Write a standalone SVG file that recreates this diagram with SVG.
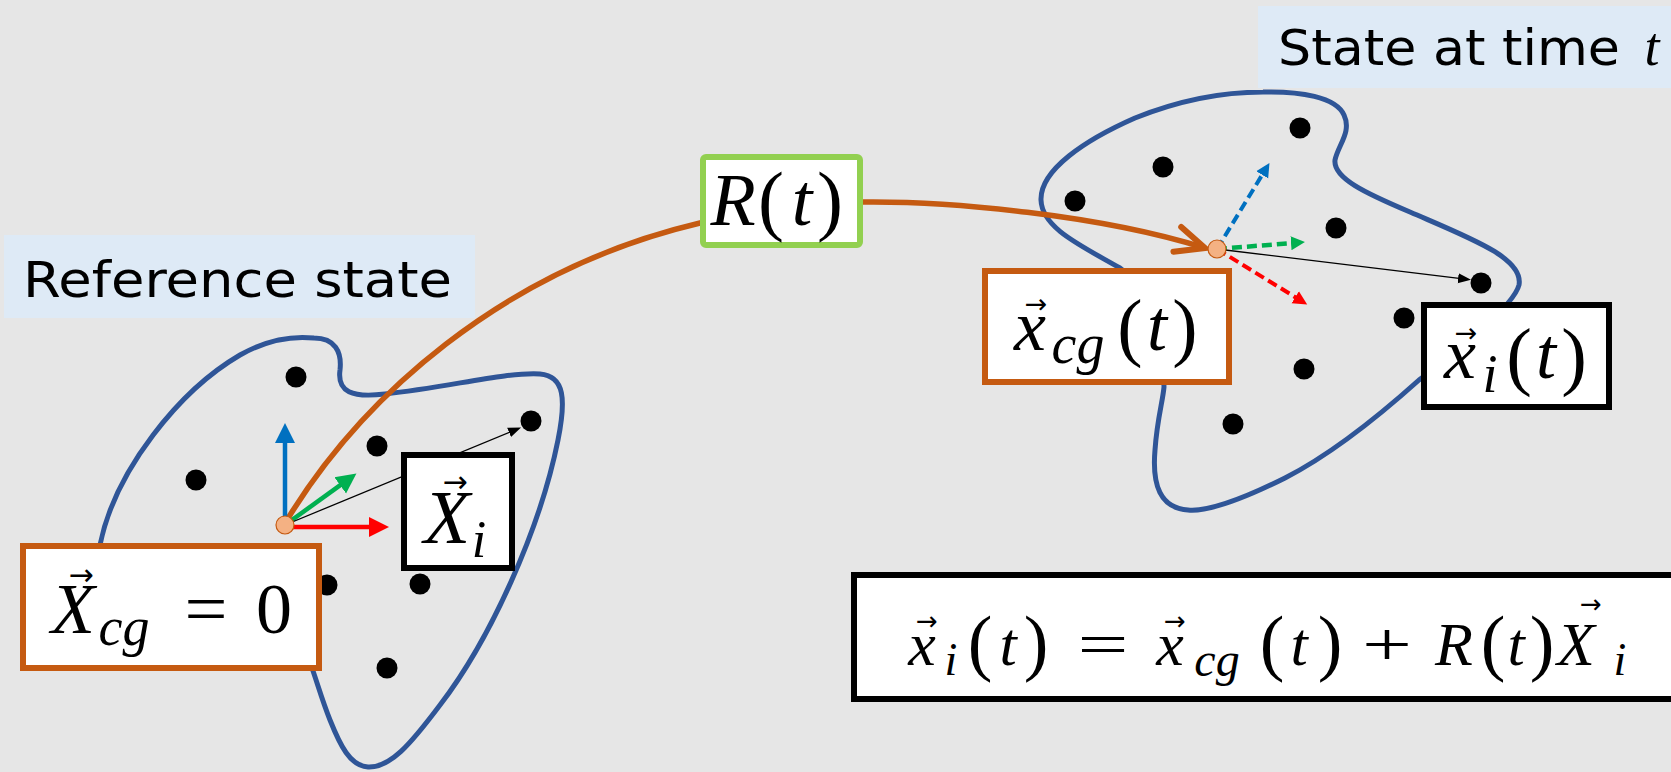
<svg xmlns="http://www.w3.org/2000/svg" width="1671" height="772" viewBox="0 0 1671 772">
<style>
.bg{fill:#E6E6E6}
.lab{fill:#DEEAF6}
.labt{font-family:"DejaVu Sans","Noto Sans",sans-serif;font-size:50px;fill:#000}
.blob{fill:none;stroke:#2F5597;stroke-width:5}
.dot{fill:#000}
.ob{fill:#fff;stroke:#C55A11;stroke-width:6}
.kb{fill:#fff;stroke:#000;stroke-width:6}
.gb{fill:#fff;stroke:#92D050;stroke-width:6}
.mi{font-family:"Liberation Serif","Times New Roman",serif;font-style:italic;fill:#000;text-anchor:middle}
.mr{font-family:"Liberation Serif","Times New Roman",serif;fill:#000;text-anchor:middle}
.vec{font-family:"DejaVu Sans",sans-serif;fill:#000;text-anchor:middle}
.cg{fill:#F4B183;stroke:#C55A11;stroke-width:1.2}
.curve{fill:none;stroke:#C55A11;stroke-width:5.5}
.thin{stroke:#000;stroke-width:1.3;fill:none}
.dash{stroke-dasharray:10 5;fill:none}
</style>
<defs>
<marker id="chev" markerUnits="userSpaceOnUse" viewBox="-36 -20 44 40" markerWidth="44" markerHeight="40" refX="0" refY="0" orient="auto"><path d="M-29,-13 L0,0 L-29,13" fill="none" stroke="#C55A11" stroke-width="6" stroke-linecap="round"/></marker>
<marker id="hbL" markerUnits="userSpaceOnUse" viewBox="0 -11 22 22" markerWidth="22" markerHeight="22" refX="1" refY="0" orient="auto"><path d="M0,-10 L20,0 L0,10 z" fill="#0070C0"/></marker>
<marker id="hrL" markerUnits="userSpaceOnUse" viewBox="0 -11 22 22" markerWidth="22" markerHeight="22" refX="1" refY="0" orient="auto"><path d="M0,-10 L20,0 L0,10 z" fill="#FF0000"/></marker>
<marker id="hgL" markerUnits="userSpaceOnUse" viewBox="0 -11 22 22" markerWidth="22" markerHeight="22" refX="1" refY="0" orient="auto"><path d="M0,-10 L20,0 L0,10 z" fill="#00B050"/></marker>
<marker id="hbS" markerUnits="userSpaceOnUse" viewBox="0 -8 16 16" markerWidth="16" markerHeight="16" refX="1" refY="0" orient="auto"><path d="M0,-7 L14,0 L0,7 z" fill="#0070C0"/></marker>
<marker id="hrS" markerUnits="userSpaceOnUse" viewBox="0 -8 16 16" markerWidth="16" markerHeight="16" refX="1" refY="0" orient="auto"><path d="M0,-7 L14,0 L0,7 z" fill="#FF0000"/></marker>
<marker id="hgS" markerUnits="userSpaceOnUse" viewBox="0 -8 16 16" markerWidth="16" markerHeight="16" refX="1" refY="0" orient="auto"><path d="M0,-7 L14,0 L0,7 z" fill="#00B050"/></marker>
<marker id="hk" markerUnits="userSpaceOnUse" viewBox="0 -6 14 12" markerWidth="14" markerHeight="12" refX="1" refY="0" orient="auto"><path d="M0,-5 L13,0 L0,5 z" fill="#000"/></marker>
</defs>
<rect class="bg" x="0" y="0" width="1671" height="772"/>

<g id="label-reference">
<rect class="lab" x="4" y="235" width="471" height="83"/>
<text class="labt" x="23" y="297" textLength="429" lengthAdjust="spacingAndGlyphs">Reference state</text>
</g>
<g id="label-time">
<rect class="lab" x="1258" y="6" width="420" height="82"/>
<text class="labt" x="1278" y="65" textLength="342" lengthAdjust="spacingAndGlyphs">State at time</text>
<text class="mi" x="1652" y="65" font-size="54">t</text>
</g>

<g id="body-reference">
<path class="blob" d="M314,338 C335,338 342,352 340,370 C337,392 352,398 385,394 C450,387 505,372 540,374 C565,376 566,400 558,440 C540,530 490,640 440,705 C410,745 390,768 368,767 C350,766 340,745 330,720 C322,700 318,685 312,668 C290,610 140,600 100,545 C115,470 180,390 240,355 C270,338 295,336 314,338 Z"/>
<circle class="dot" cx="296" cy="377" r="10.5"/>
<circle class="dot" cx="377" cy="446" r="10.5"/>
<circle class="dot" cx="196" cy="480" r="10.5"/>
<circle class="dot" cx="531" cy="421" r="10.5"/>
<circle class="dot" cx="327" cy="585" r="10.5"/>
<circle class="dot" cx="420" cy="584" r="10.5"/>
<circle class="dot" cx="387" cy="668" r="10.5"/>
</g>

<g id="body-time">
<path class="blob" d="M1263,92 C1300,91 1336,97 1344,115 C1352,132 1338,145 1335,160 C1333,178 1365,193 1410,212 C1470,238 1524,258 1519,285 C1514,305 1460,350 1419,380 C1380,415 1330,455 1285,478 C1245,498 1210,512 1188,510 C1160,508 1152,485 1155,450 C1157,420 1163,400 1164,387 C1163,330 1150,290 1120,268 C1080,245 1042,228 1041,200 C1040,170 1085,140 1135,118 C1180,100 1225,92 1263,92 Z"/>
<circle class="dot" cx="1300" cy="128" r="10.5"/>
<circle class="dot" cx="1163" cy="167" r="10.5"/>
<circle class="dot" cx="1075" cy="201" r="10.5"/>
<circle class="dot" cx="1336" cy="228" r="10.5"/>
<circle class="dot" cx="1481" cy="283" r="10.5"/>
<circle class="dot" cx="1404" cy="318" r="10.5"/>
<circle class="dot" cx="1304" cy="369" r="10.5"/>
<circle class="dot" cx="1233" cy="424" r="10.5"/>
</g>

<g id="connectors">
<path class="curve" d="M287,520 C360,400 500,270 700,223 C760,209 810,203 863,202 C950,201 1100,215 1205,248" marker-end="url(#chev)"/>
<line x1="285" y1="525" x2="285" y2="442" stroke="#0070C0" stroke-width="4.5" marker-end="url(#hbL)"/>
<line x1="285" y1="527" x2="370" y2="527" stroke="#FF0000" stroke-width="4.5" marker-end="url(#hrL)"/>
<line x1="285" y1="525" x2="341" y2="484.7" stroke="#00B050" stroke-width="4.5" marker-end="url(#hgL)"/>
<line class="thin" x1="285" y1="525" x2="510" y2="432" marker-end="url(#hk)"/>
<line class="dash" x1="1217" y1="249" x2="1262.7" y2="174" stroke="#0070C0" stroke-width="4" marker-end="url(#hbS)"/>
<line class="dash" x1="1217" y1="249" x2="1292" y2="243.1" stroke="#00B050" stroke-width="4.5" marker-end="url(#hgS)"/>
<line class="dash" x1="1217" y1="249" x2="1296.1" y2="297.7" stroke="#FF0000" stroke-width="4" marker-end="url(#hrS)"/>
<line class="thin" x1="1217" y1="249" x2="1459.1" y2="278.4" marker-end="url(#hk)"/>
</g>

<g id="cg-reference"><circle class="cg" cx="285" cy="525" r="9"/></g>
<g id="cg-time"><circle class="cg" cx="1217" cy="249" r="9"/></g>

<g id="box-Xcg">
<rect class="ob" x="23" y="546" width="296" height="122"/>
<text class="mi" x="73" y="633" font-size="72">X</text>
<text class="vec" x="81" y="585" font-size="30">→</text>
<text class="mi" x="124" y="645" font-size="54">cg</text>
<text class="mr" x="206" y="633" font-size="72" textLength="43" lengthAdjust="spacingAndGlyphs">=</text>
<text class="mr" x="274" y="633" font-size="72">0</text>
</g>

<g id="box-Xi">
<rect class="kb" x="404" y="455" width="108" height="113"/>
<text class="mi" x="447" y="543" font-size="76">X</text>
<text class="vec" x="455" y="492" font-size="30">→</text>
<text class="mi" x="479" y="557" font-size="52">i</text>
</g>

<g id="box-R">
<rect class="gb" x="703" y="157" width="157" height="88" rx="3"/>
<text class="mi" x="733" y="225" font-size="74">R</text>
<text class="mr" x="771" y="226" font-size="78">(</text>
<text class="mi" x="802" y="225" font-size="74">t</text>
<text class="mr" x="830" y="226" font-size="78">)</text>
</g>

<g id="box-xcg">
<rect class="ob" x="985" y="271" width="244" height="111"/>
<text class="mi" x="1030" y="350" font-size="72">x</text>
<text class="vec" x="1036" y="313" font-size="27">→</text>
<text class="mi" x="1078" y="363" font-size="56">cg</text>
<text class="mr" x="1130" y="352" font-size="76">(</text>
<text class="mi" x="1157" y="350" font-size="72">t</text>
<text class="mr" x="1185" y="352" font-size="76">)</text>
</g>

<g id="box-xi">
<rect class="kb" x="1424" y="305" width="185" height="102"/>
<text class="mi" x="1460" y="378" font-size="72">x</text>
<text class="vec" x="1466" y="342" font-size="27">→</text>
<text class="mi" x="1490" y="392" font-size="54">i</text>
<text class="mr" x="1519" y="381" font-size="77">(</text>
<text class="mi" x="1546" y="378" font-size="72">t</text>
<text class="mr" x="1574" y="381" font-size="77">)</text>
</g>

<g id="box-formula">
<rect class="kb" x="854" y="575" width="830" height="124"/>
<text class="mi" x="922" y="665" font-size="62">x</text>
<text class="vec" x="927" y="630" font-size="26">→</text>
<text class="mi" x="951" y="675" font-size="46">i</text>
<text class="mr" x="980" y="667" font-size="74">(</text>
<text class="mi" x="1008" y="665" font-size="62">t</text>
<text class="mr" x="1036" y="667" font-size="74">)</text>
<text class="mr" x="1103" y="665" font-size="62" textLength="51" lengthAdjust="spacingAndGlyphs">=</text>
<text class="mi" x="1170" y="665" font-size="62">x</text>
<text class="vec" x="1175" y="630" font-size="26">→</text>
<text class="mi" x="1217" y="676" font-size="48">cg</text>
<text class="mr" x="1272" y="667" font-size="74">(</text>
<text class="mi" x="1299" y="665" font-size="62">t</text>
<text class="mr" x="1330" y="667" font-size="74">)</text>
<text class="mr" x="1387" y="665" font-size="62" textLength="50" lengthAdjust="spacingAndGlyphs">+</text>
<text class="mi" x="1454" y="665" font-size="62">R</text>
<text class="mr" x="1493" y="667" font-size="74">(</text>
<text class="mi" x="1516" y="665" font-size="62">t</text>
<text class="mr" x="1542" y="667" font-size="74">)</text>
<text class="mi" x="1576" y="665" font-size="62">X</text>
<text class="vec" x="1591" y="613" font-size="26">→</text>
<text class="mi" x="1620" y="675" font-size="46">i</text>
</g>
</svg>
